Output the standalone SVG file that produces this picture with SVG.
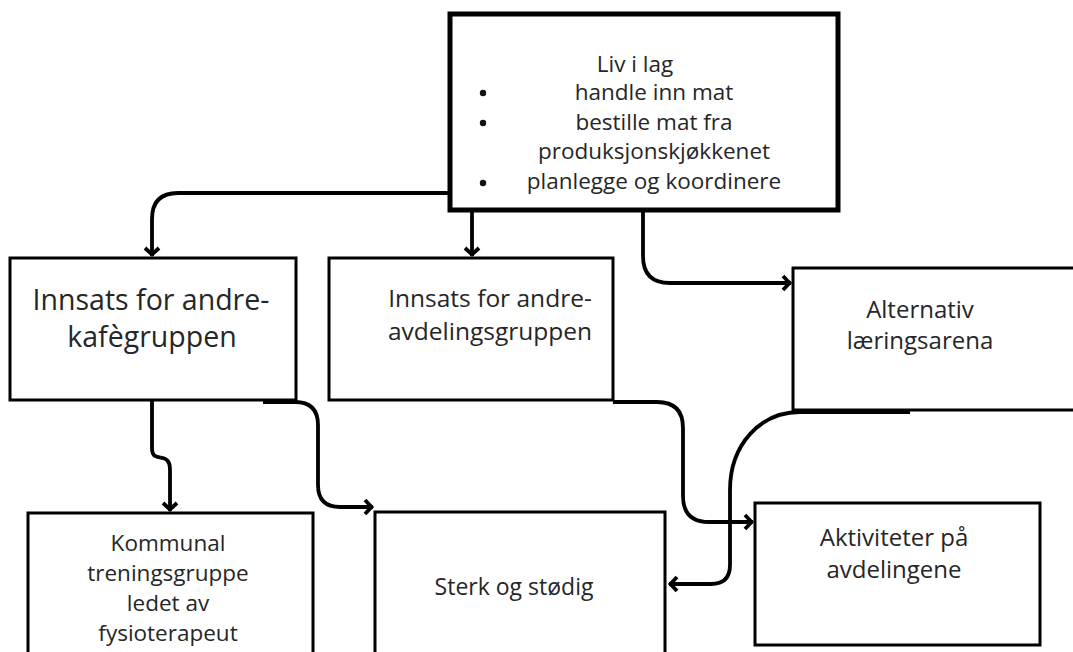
<svg xmlns="http://www.w3.org/2000/svg" width="1073" height="652" viewBox="0 0 1073 652">
<style>
.box{fill:#fff;stroke:#000;stroke-width:3}
.t{font-family:"Open Sans","Noto Sans",sans-serif;fill:#262626;text-anchor:middle}
.c{fill:none;stroke:#000;stroke-width:3.8;stroke-linecap:butt;stroke-linejoin:round}
</style>
<defs>
<marker id="ah" viewBox="-10 -10 20 20" markerWidth="20" markerHeight="20" refX="0" refY="0" orient="auto" markerUnits="userSpaceOnUse">
<path d="M -8 -7 L -1.5 0 L -8 7" fill="none" stroke="#000" stroke-width="3.8"/>
</marker>
</defs>
<rect width="1073" height="652" fill="#fff"/>
<g id="node-livilag">
<rect x="450" y="14" width="388" height="196" fill="#fff" stroke="#000" stroke-width="5"/>
<text class="t" font-size="22.5" x="635" y="72">Liv i lag</text>
<circle cx="483" cy="93" r="3.2" fill="#111"/>
<circle cx="483" cy="123" r="3.2" fill="#111"/>
<circle cx="483" cy="183" r="3.2" fill="#111"/>
<text class="t" font-size="22.5" x="654" y="100">handle inn mat</text>
<text class="t" font-size="22.5" x="654" y="130">bestille mat fra</text>
<text class="t" font-size="22.5" x="654" y="159">produksjonskjøkkenet</text>
<text class="t" font-size="22.5" x="654" y="189">planlegge og koordinere</text>
</g>
<g id="node-kafe">
<rect class="box" x="10" y="258" width="286" height="142"/>
<text class="t" font-size="28.5" x="151" y="310">Innsats for andre-</text>
<text class="t" font-size="28.5" x="152" y="347">kafègruppen</text>
</g>
<g id="node-avdeling">
<rect class="box" x="329" y="258" width="284" height="142"/>
<text class="t" font-size="24.5" x="490" y="307">Innsats for andre-</text>
<text class="t" font-size="24.5" x="490" y="340">avdelingsgruppen</text>
</g>
<g id="node-alternativ">
<rect class="box" x="793" y="268" width="300" height="142"/>
<text class="t" font-size="24" x="920" y="318">Alternativ</text>
<text class="t" font-size="24" x="920" y="349">læringsarena</text>
</g>
<g id="node-kommunal">
<rect class="box" x="28" y="513" width="285" height="160"/>
<text class="t" font-size="22.5" x="168" y="551">Kommunal</text>
<text class="t" font-size="22.5" x="168" y="581">treningsgruppe</text>
<text class="t" font-size="22.5" x="168" y="611">ledet av</text>
<text class="t" font-size="22.5" x="168" y="641">fysioterapeut</text>
</g>
<g id="node-sterk">
<rect class="box" x="375" y="512" width="290" height="160"/>
<text class="t" font-size="23" x="514" y="595">Sterk og stødig</text>
</g>
<g id="node-aktiviteter">
<rect class="box" x="755" y="503" width="285" height="142"/>
<text class="t" font-size="24" x="894" y="546">Aktiviteter på</text>
<text class="t" font-size="24" x="894" y="578">avdelingene</text>
</g>
<g id="connectors">
<path class="c" d="M 448 193 H 178 Q 152 193 152 219 V 256" marker-end="url(#ah)"/>
<path class="c" d="M 472 212 V 256" marker-end="url(#ah)"/>
<path class="c" d="M 643 212 V 256 Q 643 283 670 283 H 791" marker-end="url(#ah)"/>
<path class="c" d="M 152 401 V 448 C 152 458 158 457 163 458 C 170 460 170 466 170 472 V 511" marker-end="url(#ah)"/>
<path class="c" d="M 263 402 H 295 Q 318 402 318 425 V 485 Q 318 507 340 507 H 373" marker-end="url(#ah)"/>
<path class="c" d="M 613 402 H 657 Q 683 402 683 428 V 496 Q 683 522 709 522 H 753" marker-end="url(#ah)"/>
<path class="c" d="M 910 412 H 800 C 760 412 730 445 730 490 V 565 Q 730 584 711 584 H 669" marker-end="url(#ah)"/>
</g>
</svg>
